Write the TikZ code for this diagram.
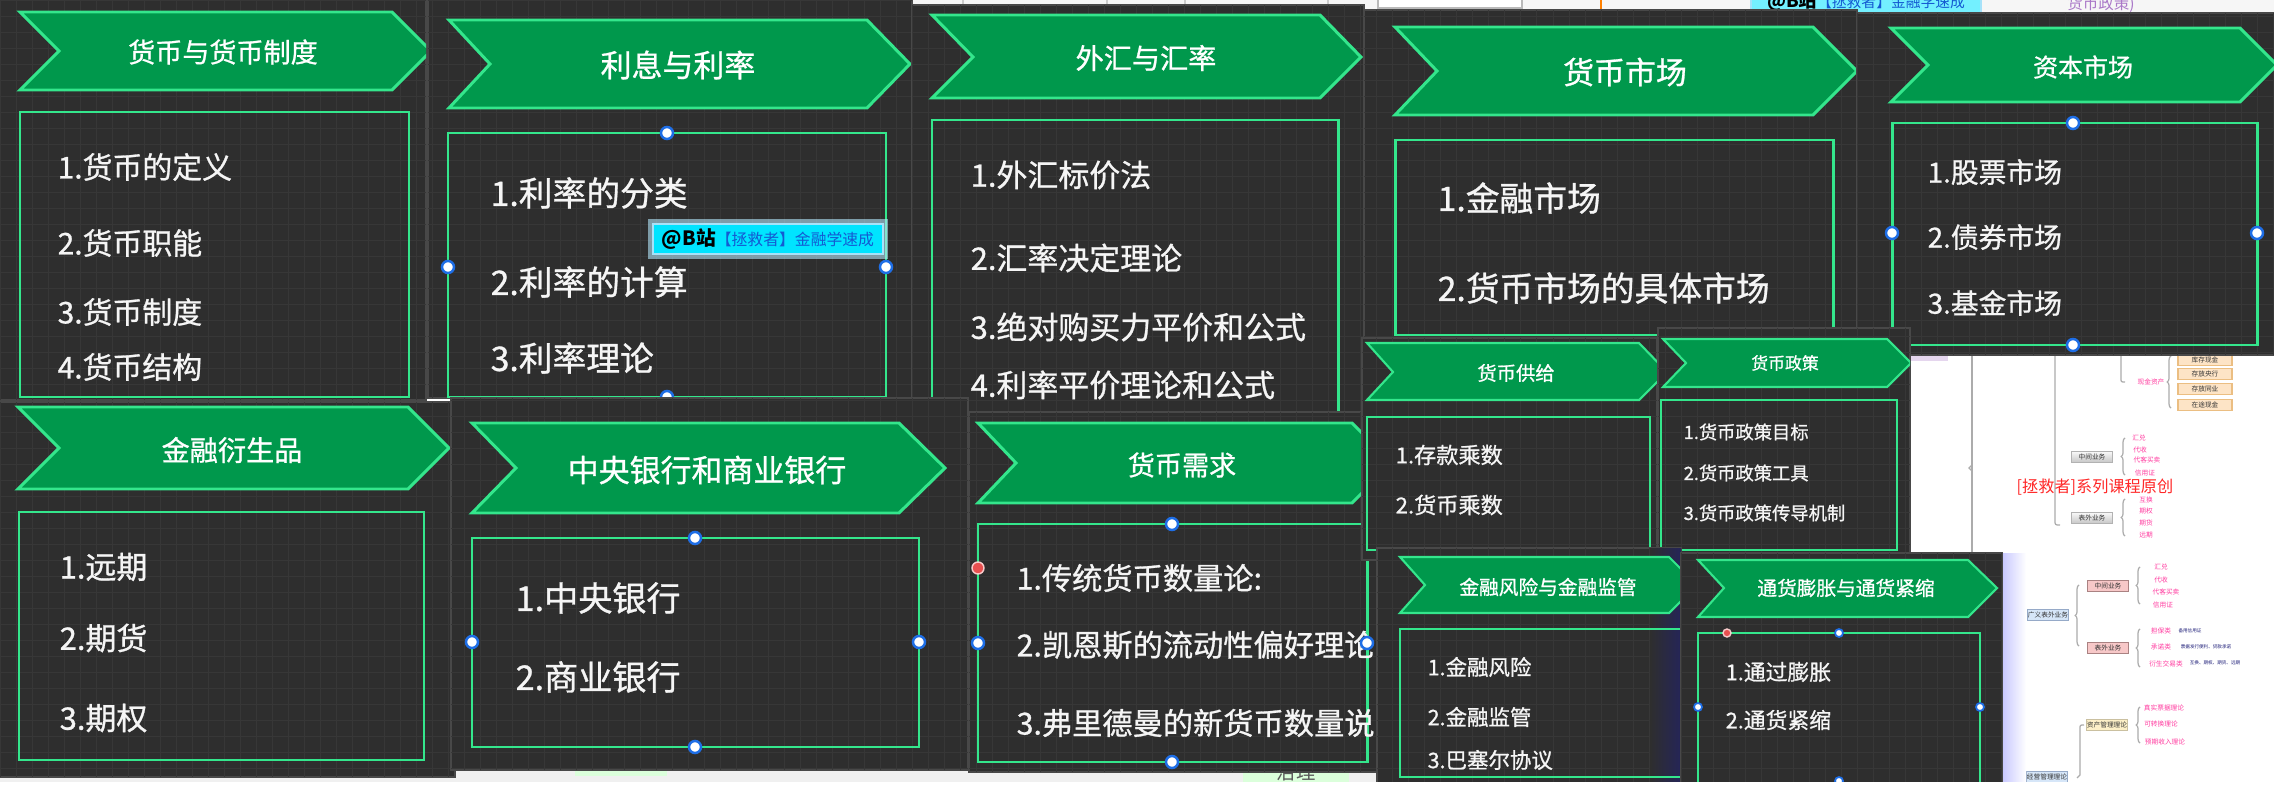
\documentclass[tikz,border=0pt]{standalone}
\usepackage{fontspec}
\setmainfont{Noto Sans CJK SC}
\newfontfamily\cardfont{Noto Sans CJK SC}[FakeBold=0.9]
\usepackage{xcolor}
\usetikzlibrary{decorations.pathreplacing}
\definecolor{panelgray}{RGB}{46,46,46}
\definecolor{gridgray}{RGB}{55,55,55}
\definecolor{edgegray}{RGB}{72,72,72}
\definecolor{chevgreen}{RGB}{0,152,76}
\definecolor{neongreen}{RGB}{52,230,140}
\definecolor{handleblue}{RGB}{30,110,230}
\definecolor{dotred}{RGB}{232,80,80}
\definecolor{tagcyan}{RGB}{0,228,255}
\definecolor{tagblue}{RGB}{20,90,210}
\definecolor{mmpink}{RGB}{255,60,160}
\definecolor{mmnavy}{RGB}{30,30,120}
\definecolor{mmorange}{RGB}{253,228,198}
\definecolor{mmorangeedge}{RGB}{235,190,130}
\definecolor{mmrose}{RGB}{247,200,200}
\definecolor{mmroseedge}{RGB}{170,130,130}
\definecolor{mmsky}{RGB}{214,230,248}
\definecolor{mmskyedge}{RGB}{150,170,200}
\definecolor{mmcream}{RGB}{253,240,200}
\definecolor{mmred}{RGB}{255,40,40}
\definecolor{uipurple}{RGB}{170,120,200}
\newcommand{\pxfont}[1]{\cardfont\fontsize{#1}{#1}\selectfont}
\newcommand{\mmfont}[1]{\fontsize{#1}{#1}\selectfont}
\tikzset{
  panel/.style={fill=panelgray, draw=edgegray, line width=0.6pt},
  gridline/.style={draw=gridgray, line width=0.25pt, step=0.16cm},
  chev/.style={fill=chevgreen, draw=neongreen, line width=0.85pt, line join=miter},
  chevsmall/.style={chev, line width=0.6pt},
  topicbox/.style={draw=neongreen, line width=0.85pt},
  topicboxsmall/.style={topicbox, line width=0.6pt},
  title/.style={text=white, inner sep=0pt},
  item/.style={text=white!96!black, anchor=west, inner sep=0pt},
  handle/.style={circle, fill=white, draw=handleblue, line width=0.7pt, inner sep=0pt, minimum size=0.12cm},
  handlesmall/.style={handle, line width=0.5pt, minimum size=0.08cm},
  reddot/.style={circle, fill=dotred, draw=white!70!dotred, line width=0.4pt, inner sep=0pt, minimum size=0.12cm},
  wmtag/.style={fill=tagcyan, draw=cyan!35!white, line width=0.8pt, inner sep=0pt, minimum width=2.3cm, minimum height=0.3cm},
  mmline/.style={draw=gray!65, line width=0.35pt},
  mmbrace/.style={decorate, decoration={brace, amplitude=1.1pt}, draw=gray!65, line width=0.35pt},
  mmtext/.style={text=mmpink, inner sep=0pt, font=\mmfont{1.9pt}},
  mmnote/.style={text=mmnavy, inner sep=0pt, font=\mmfont{1.3pt}},
  mmbox/.style={draw, line width=0.3pt, minimum width=0.41cm, minimum height=0.11cm, inner sep=0pt, font=\mmfont{1.9pt}, text=black!80},
  mmgray/.style={mmbox, top color=gray!5, bottom color=gray!45, draw=gray!60},
}

\begin{document}
\begin{tikzpicture}[x=0.01cm, y=-0.01cm]
\useasboundingbox (0,0) rectangle (2274,800);
\fill[white] (0,0) rectangle (2274,800);

% ---- top strip (editor behind the cards) ----
\fill[gray!7] (912,0) rectangle (2274,14);
\foreach \x in {963,1107,1185,1328}
  \draw[gray!40, line width=0.3pt] (\x,0) -- (\x,7);
\draw[gray!55, fill=white, line width=0.4pt] (1378,-2) rectangle (1522,8);
\draw[orange, line width=0.6pt] (1601,0) -- (1601,10);
\node[wmtag, fill=tagcyan!55!white] (toptag) at (1866,1) {\mmfont{5.2pt}\textbf{@B站}\textcolor{tagblue}{\mmfont{4.2pt}【拯救者】金融学速成}};
\node[text=uipurple, inner sep=0pt, font=\mmfont{4.4pt}] (toppolicy) at (2101,4) {货币政策)};

% ---- bottom strip ----
\fill[gray!12] (0,768) rectangle (1380,782);
\fill[green!14!white] (575,770) rectangle (667,776);
\fill[green!14!white] (1243,770) rectangle (1349,782);
\node[text=gray!70!black, inner sep=0pt, font=\mmfont{5.5pt}] (zhili) at (1296,772) {治理};

% ---- mind map behind the cards ----
\fill[uipurple!30] (1910,355) rectangle (1948,361);
\draw[mmline] (1972,355) -- (1972,553);
\draw[mmline] (1972,465) -- (1969,468) -- (1972,471);
\draw[mmline] (2055,355) -- (2055,520) .. controls (2055,525) .. (2060,525);
\draw[mmline] (2121,355) -- (2121,378) .. controls (2121,382) .. (2125,382);
\node[mmtext] (cash) at (2151,382) {现金资产};
\draw[mmbrace] (2171,408) -- (2171,356);
\foreach \y/\t [count=\i] in {360/库存现金, 374/存放央行, 389/存放同业, 405/在途现金}
  \node[mmbox, fill=mmorange, draw=mmorangeedge, minimum width=0.54cm] (cash\i) at (2205,\y) {\t};
\node[mmgray] (mid) at (2092,457) {中间业务};
\draw[mmbrace] (2125,475) -- (2125,438);
\foreach \x/\y/\t [count=\i] in {2139/438/汇兑, 2140/450/代收, 2147/460/代客买卖, 2145/473/信用证}
  \node[mmtext] (mid\i) at (\x,\y) {\t};
\node[text=mmred, inner sep=0pt, font=\mmfont{4.6pt}] (mark) at (2095,487) {[拯救者]系列课程原创};
\node[mmgray] (off) at (2092,518) {表外业务};
\draw[mmbrace] (2125,536) -- (2125,499);
\foreach \y/\t [count=\i] in {500/互换, 511/期权, 523/期货, 535/远期}
  \node[mmtext] (off\i) at (2146,\y) {\t};

\node[mmbox, fill=mmsky, draw=mmskyedge] (broad) at (2048,615) {广义表外业务};
\draw[mmbrace] (2079,646) -- (2079,585);
\node[mmbox, fill=mmrose, draw=mmroseedge] (midb) at (2108,586) {中间业务};
\draw[mmbrace] (2140,604) -- (2140,567);
\foreach \x/\y/\t [count=\i] in {2161/567/汇兑, 2161/580/代收, 2166/592/代客买卖, 2163/605/信用证}
  \node[mmtext] (midb\i) at (\x,\y) {\t};
\node[mmbox, fill=mmrose, draw=mmroseedge] (offb) at (2108,648) {表外业务};
\draw[mmbrace] (2140,667) -- (2140,629);
\node[mmtext] (guar) at (2161,631) {担保类};
\node[mmnote] (guarn) at (2190,631) {备用信用证};
\node[mmtext] (prom) at (2161,647) {承诺类};
\node[mmnote] (promn) at (2206,647) {票据发行便利、贷款承诺};
\node[mmtext] (deri) at (2166,664) {衍生交易类};
\node[mmnote] (derin) at (2215,663) {互换、期权、期货、远期};
\node[mmbox, fill=mmcream, draw=mmcream!80!black] (asset) at (2107,725) {资产管理理论};
\draw[mmbrace] (2140,743) -- (2140,707);
\foreach \x/\y/\t [count=\i] in {2164/708/真实票据理论, 2161/724/可转换理论, 2165/742/预期收入理论}
  \node[mmtext] (asset\i) at (\x,\y) {\t};
\draw[mmline] (2084,725) .. controls (2080,725) .. (2080,729) -- (2080,775) -- (2077,778);
\node[mmbox, fill=mmsky, draw=mmskyedge] (manage) at (2047,777) {经营管理理论};

% ---- Panel A: 货币与货币制度 ----
\filldraw[panel] (0,-2) rectangle (426,400);
\begin{scope}
\clip (0,0) rectangle (426,400);
\draw[gridline] (0,400) grid (426,0);
\draw[chev] (20,12) -- (392,12) -- (431,51) -- (392,90) -- (20,90) -- (59,51) -- cycle;
\node[title, font=\pxfont{7.7pt}] (ta) at (223,52) {货币与货币制度};
\draw[topicbox] (20,112) rectangle (409,397);
\foreach \y/\t [count=\i] in {167/1.货币的定义, 243/2.货币职能, 312/3.货币制度, 367/4.货币结构}
  \node[item, font=\pxfont{8.5pt}] (a\i) at (57,\y) {\t};
\end{scope}

% ---- Panel B: 利息与利率 ----
\filldraw[panel] (428,-2) rectangle (912,398);
\begin{scope}
\clip (428,0) rectangle (912,398);
\draw[gridline] (428,398) grid (912,0);
\draw[chev] (449,20) -- (867,20) -- (910,64) -- (867,108) -- (449,108) -- (490,64) -- cycle;
\node[title, font=\pxfont{8.8pt}] (tb) at (678,65) {利息与利率};
\draw[topicbox] (448,133) rectangle (886,397);
\foreach \y/\t [count=\i] in {193/1.利率的分类, 282/2.利率的计算, 358/3.利率理论}
  \node[item, font=\pxfont{9.6pt}] (b\i) at (490,\y) {\t};
\foreach \x/\y [count=\i] in {667/133, 448/267, 886/267, 667/397}
  \node[handle] (bh\i) at (\x,\y) {};
\fill[cyan!30, opacity=0.6] (648,219) rectangle (888,259);
\node[wmtag] (tagb) at (768,239) {\mmfont{5.6pt}\textbf{@B站}\textcolor{tagblue}{\mmfont{4.5pt}【拯救者】金融学速成}};
\end{scope}

% ---- Panel C: 外汇与汇率 ----
\filldraw[panel] (912,5) rectangle (1364,412);
\begin{scope}
\clip (912,5) rectangle (1364,412);
\draw[gridline] (912,412) grid (1364,5);
\draw[chev] (932,15) -- (1320,15) -- (1361,57) -- (1320,98) -- (932,98) -- (973,57) -- cycle;
\node[title, font=\pxfont{8pt}] (tc) at (1146,58) {外汇与汇率};
\draw[topicbox] (932,120) rectangle (1338,430);
\foreach \y/\t [count=\i] in {175/1.外汇标价法, 258/2.汇率决定理论, 327/3.绝对购买力平价和公式, 385/4.利率平价理论和公式}
  \node[item, font=\pxfont{8.8pt}] (c\i) at (970,\y) {\t};
\end{scope}

% ---- Panel D: 货币市场 ----
\filldraw[panel] (1364,10) rectangle (1857,345);
\begin{scope}
\clip (1364,10) rectangle (1857,345);
\draw[gridline] (1364,345) grid (1857,10);
\draw[chev] (1395,27) -- (1813,27) -- (1857,71) -- (1813,115) -- (1395,115) -- (1437,71) -- cycle;
\node[title, font=\pxfont{8.8pt}] (td) at (1625,72) {货币市场};
\draw[topicbox] (1395,140) rectangle (1833,335);
\foreach \y/\t [count=\i] in {198/1.金融市场, 288/2.货币市场的具体市场}
  \node[item, font=\pxfont{9.6pt}] (d\i) at (1437,\y) {\t};
\end{scope}

% ---- Panel E: 资本市场 ----
\filldraw[panel] (1857,13) rectangle (2276,355);
\begin{scope}
\clip (1857,13) rectangle (2274,355);
\draw[gridline] (1857,355) grid (2274,13);
\draw[chev] (1891,28) -- (2240,28) -- (2277,65) -- (2240,102) -- (1891,102) -- (1928,65) -- cycle;
\node[title, font=\pxfont{7.1pt}] (te) at (2083,67) {资本市场};
\draw[topicbox] (1892,123) rectangle (2257,345);
\foreach \y/\t [count=\i] in {172/1.股票市场, 237/2.债券市场, 303/3.基金市场}
  \node[item, font=\pxfont{7.9pt}] (e\i) at (1927,\y) {\t};
\foreach \x/\y [count=\i] in {2073/123, 1892/233, 2257/233, 2073/345}
  \node[handle] (eh\i) at (\x,\y) {};
\end{scope}

% ---- Panel F: 金融衍生品 ----
\filldraw[panel] (-2,402) rectangle (455,777);
\begin{scope}
\clip (0,402) rectangle (455,777);
\draw[gridline] (0,777) grid (455,402);
\draw[chev] (18,407) -- (408,407) -- (449,448) -- (408,489) -- (18,489) -- (59,448) -- cycle;
\node[title, font=\pxfont{8pt}] (tf) at (232,450) {金融衍生品};
\draw[topicbox] (19,512) rectangle (424,760);
\foreach \y/\t [count=\i] in {567/1.远期, 638/2.期货, 718/3.期权}
  \node[item, font=\pxfont{8.8pt}] (f\i) at (59,\y) {\t};
\end{scope}

% ---- Panel G: 中央银行和商业银行 ----
\filldraw[panel] (451,398) rectangle (968,770);
\begin{scope}
\clip (451,398) rectangle (968,770);
\draw[gridline] (451,770) grid (968,398);
\draw[chev] (472,423) -- (899,423) -- (945,468) -- (899,513) -- (472,513) -- (516,468) -- cycle;
\node[title, font=\pxfont{8.8pt}] (tg) at (707,470) {中央银行和商业银行};
\draw[topicbox] (472,538) rectangle (919,747);
\foreach \y/\t [count=\i] in {598/1.中央银行, 677/2.商业银行}
  \node[item, font=\pxfont{9.7pt}] (g\i) at (515,\y) {\t};
\foreach \x/\y [count=\i] in {695/538, 472/642, 919/642, 695/747}
  \node[handle] (gh\i) at (\x,\y) {};
\end{scope}

% ---- Panel H: 货币需求 ----
\filldraw[panel] (969,412) rectangle (1377,772);
\begin{scope}
\clip (969,412) rectangle (1377,772);
\draw[gridline] (969,772) grid (1377,412);
\draw[chev] (978,423) -- (1352,423) -- (1392,463) -- (1352,503) -- (978,503) -- (1016,463) -- cycle;
\node[title, font=\pxfont{7.7pt}] (th) at (1182,465) {货币需求};
\draw[topicbox] (978,524) rectangle (1367,762);
\foreach \y/\t [count=\i] in {578/1.传统货币数量论:, 645/2.凯恩斯的流动性偏好理论, 723/3.弗里德曼的新货币数量说}
  \node[item, font=\pxfont{8.6pt}] (h\i) at (1016,\y) {\t};
\foreach \x/\y [count=\i] in {1172/524, 978/643, 1367/643, 1172/762}
  \node[handle] (hh\i) at (\x,\y) {};
\node[reddot] (hr) at (978,568) {};
\end{scope}

% ---- Panel I: 货币供给 ----
\filldraw[panel] (1362,338) rectangle (1657,560);
\begin{scope}
\clip (1362,338) rectangle (1657,560);
\draw[gridline] (1362,560) grid (1657,338);
\draw[chevsmall] (1367,343) -- (1639,343) -- (1667,372) -- (1639,400) -- (1367,400) -- (1393,372) -- cycle;
\node[title, font=\pxfont{5.5pt}] (ti) at (1516,373) {货币供给};
\draw[topicboxsmall] (1367,417) rectangle (1650,550);
\foreach \y/\t [count=\i] in {455/1.存款乘数, 505/2.货币乘数}
  \node[item, font=\pxfont{6.3pt}] (i\i) at (1395,\y) {\t};
\end{scope}

% ---- Panel J: 货币政策 ----
\filldraw[panel] (1658,328) rectangle (1910,553);
\begin{scope}
\clip (1658,328) rectangle (1910,553);
\draw[gridline] (1658,553) grid (1910,328);
\draw[chevsmall] (1663,339) -- (1887,339) -- (1911,363) -- (1887,387) -- (1663,387) -- (1686,363) -- cycle;
\node[title, font=\pxfont{4.8pt}] (tj) at (1785,363) {货币政策};
\draw[topicboxsmall] (1661,400) rectangle (1897,550);
\foreach \y/\t [count=\i] in {432/1.货币政策目标, 473/2.货币政策工具, 513/3.货币政策传导机制}
  \node[item, font=\pxfont{5.2pt}] (j\i) at (1683,\y) {\t};
\end{scope}

% ---- Panel K: 金融风险与金融监管 ----
\filldraw[panel] (1377,548) rectangle (1681,783);
\begin{scope}
\clip (1377,548) rectangle (1681,783);
\draw[gridline] (1377,783) grid (1681,548);
\shade[left color=panelgray, right color=blue!20!panelgray] (1650,548) rectangle (1681,783);
\draw[chevsmall] (1400,557) -- (1669,557) -- (1697,585) -- (1669,613) -- (1400,613) -- (1425,585) -- cycle;
\node[title, font=\pxfont{5.6pt}] (tk) at (1548,587) {金融风险与金融监管};
\draw[topicboxsmall] (1400,629) rectangle (1690,777);
\foreach \y/\t [count=\i] in {667/1.金融风险, 717/2.金融监管, 760/3.巴塞尔协议}
  \node[item, font=\pxfont{6.1pt}] (k\i) at (1427,\y) {\t};
\end{scope}

% ---- Panel L: 通货膨胀与通货紧缩 ----
\shade[left color=blue!22!white, right color=white] (2002,553) rectangle (2026,783);
\filldraw[panel] (1681,553) rectangle (2002,783);
\begin{scope}
\clip (1681,553) rectangle (2002,783);
\draw[gridline] (1681,783) grid (2002,553);
\draw[chevsmall] (1698,560) -- (1968,560) -- (1997,588) -- (1968,617) -- (1698,617) -- (1724,588) -- cycle;
\node[title, font=\pxfont{5.6pt}] (tl) at (1846,588) {通货膨胀与通货紧缩};
\draw[topicboxsmall] (1698,633) rectangle (1980,790);
\foreach \y/\t [count=\i] in {672/1.通过膨胀, 720/2.通货紧缩}
  \node[item, font=\pxfont{6.2pt}] (l\i) at (1725,\y) {\t};
\foreach \x/\y [count=\i] in {1839/633, 1698/707, 1980/707, 1839/781}
  \node[handlesmall] (lh\i) at (\x,\y) {};
\node[reddot, minimum size=0.08cm] (lr) at (1727,633) {};
\end{scope}

% ---- screenshot ends ----
\fill[white] (0,782) rectangle (2274,801);
\end{tikzpicture}
\end{document}
